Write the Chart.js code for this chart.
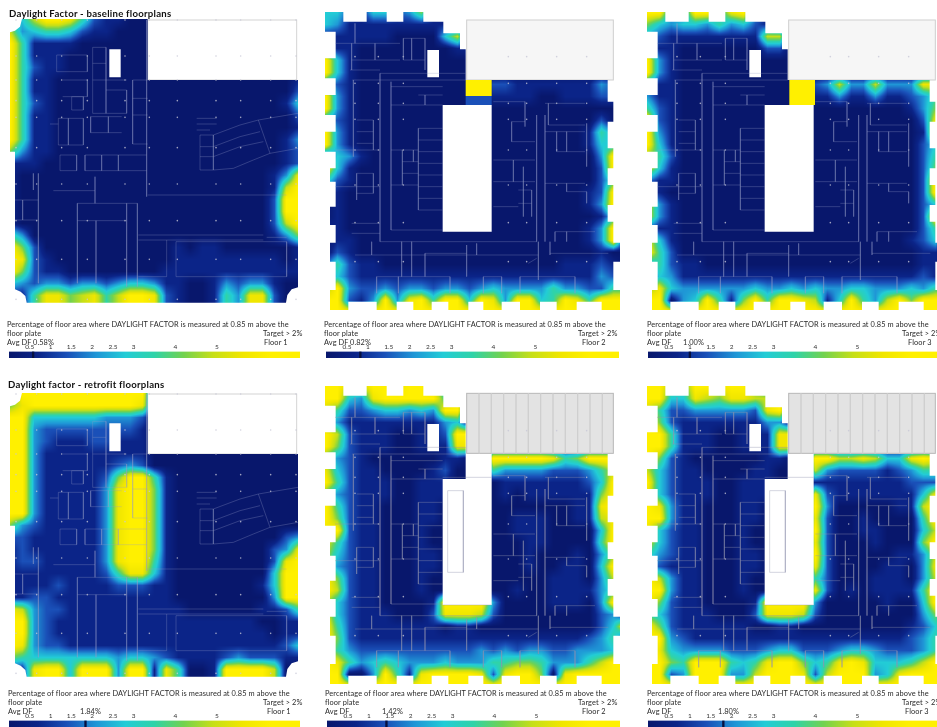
<!DOCTYPE html>
<html>
<head>
<meta charset="utf-8">
<script src="https://cdn.jsdelivr.net/npm/chart.js@4.4.0/dist/chart.umd.min.js"></script>
<style>
  html, body { margin: 0; background: #fff; overflow: hidden; }
  #page { position: relative; width: 937px; height: 727px; overflow: hidden; filter: blur(0.35px); }
  #page canvas { position: absolute; }
  .t { position: absolute; white-space: nowrap; font: 7.4px Lato, sans-serif; color: #2a2a2a; letter-spacing: 0.1px; line-height: 9px; }
  .h { font: bold 9.6px Lato, sans-serif; color: #111; letter-spacing: 0.25px; line-height: 11px; }
</style>
</head>
<body>
<div id="page"></div>
<script>
// daylight factor read per cell, one digit per cell, see dfLevels
const dfLevels = [0, 0.7, 1.4, 2.1, 2.8, 3.5, 4.2, 4.9, 5.6, 6.3];
const rampValues = [0, 0.7, 1.4, 2.1, 2.8, 3.5, 4.2, 4.9, 5.6, 6.3, 7];
const rampColors = ['#08176c', '#0b2488', '#1a50b8', '#1f96d6', '#22ccd6', '#2fd3a8', '#72d24f', '#c5df18', '#f0e600', '#fff000', '#fff000'];
const barTicks = [0, 0.5, 1, 1.5, 2, 2.5, 3, 4, 5, 7];

const baseFloor1 = [
  "2479985211", "734554211", "95111100", "95111", "95211", "9511000000000000000000001",
  "9511000000000000000000002", "9521000000000000000000014", "9511000000000000000000002",
  "9511000000000000000000001", "9511000000000000000000013", "6311000000000000000000012",
  "1110000000000000000000012", "1000000000000000000000138", "1000000000000000000000179",
  "1000000000000000000000299", "1000000000000000000000299", "1000000000000000000000279",
  "5300000000000000000000136", "9620000000000010110000001", "9821000000000011111111101",
  "9621100000000111111111111", "4323323323443110013233100", "1158867857998210015388200",
  "1158867857998210015388200"
];
const baseFloor2 = [
  "44214423611", "43111111111", "111111000047", "21100000000110", "941", "941",
  "32100000000000221111111320", "93100000000000111100111220", "931", "32100000000000000000000200",
  "93100000000000000000001530", "93100000000000000000001440", "14310000000000000000000390",
  "94100000000000000000000290", "52100000000000000000000250", "11000000000000000000001290",
  "01000000000000000000001390", "01000000000000000000000140", "11000000000000000000001390",
  "01100000000000000000001390", "02100000000000000000000100", "25211000000000000000111210",
  "24211111111111111111111320", "69322323323323433335332255", "99213938959949839945985999",
  "99999999999999999999999999"
];
const baseFloor3 = [
  "9933994893", "64344353421", "321111111177", "311000000022", "931", "931",
  "31100000000000237337333880", "31100000000000113113112350", "52100000000000000000001360",
  "92100000000000000000000280", "93100000000000000000000190", "94100000000000000000000240",
  "65200000000000000000000250", "84100000000000000000000260", "31100000000000000000000290",
  "11000000000000000000000290", "83100000000000000000000240", "83100000000000000000000290",
  "21100000000000000000000250", "84100000000000000000001240", "95200000000000000000000110",
  "35211000000000000000000110", "14311111111111111111111210", "68433333343343433443334355",
  "99034951695998714953796999", "99999999999999999999999999"
];
const retroFloor1 = [
  "399999999999", "6899999999981", "994444443332", "993222222221", "993211122111", "993111111111",
  "993111111232", "99311111269951", "99311111389961", "99311111389961", "99311111389961",
  "63211111389961", "2211111138996100000000023", "1211111138996100000000238",
  "1221111138995100000000289", "1111111125884100000000499", "1111211112221100000001499",
  "1122111111111100000000399", "8732211111111110000001125", "9932111111111111111110011",
  "9932111111111111111111011", "9832211111111111111111124", "6544444443443211112322211",
  "1189949993991850019999700", "1189949993991850019999700"
];
const retroFloor2 = [
  "99779989973", "994389999958", "752234434399", "531111111134", "9721110011299", "9621110011188",
  "53210000001100999998569990", "84211000012000533332223570", "95211100111000011111112490",
  "53211100111000010111111690", "95211000110000000000011890", "96211000110000001110011780",
  "89211000100000001110000490", "85211000100000000110000590", "74211000110000000100010360",
  "73211000110000000100110490", "96211000100000000001110370", "97211000100000001001111350",
  "74211000019999300001110390", "84211100028887200000000230", "95211111110110000000000249",
  "96211111111111111111112350", "75322222222223232332233340", "98534543334333556653335799",
  "99003951899998289960899999", "99999999999999999999999999"
];
const retroFloor3 = [
  "99659989963", "994487688779", "7522333332893", "962111111133", "9951110011188", "9951110011188",
  "96210000001100997787448980", "74211000011000732222123550", "94211100111000111111112220",
  "84211100111000821111111480", "98311000110000930000011790", "99311000110000820010000590",
  "84211000100000920011000470", "84211000100000820001000690", "53211000110000920000011370",
  "32111000110000820000110380", "97311000100000520001110370", "99311000100000820101111590",
  "96211000019999300000100490", "54211100028887200000000360", "96211111100110000000001249",
  "99321111111111111111112350", "98433332223442223443222356", "99659995458996458984445799",
  "99239993379998279993489999", "99999999999999999999999999"
];

// floor plate outlines, in plan units
const groundOutlineX = [66, 443, 443, 894, 894, 875, 862, 858, 80, 76, 62, 45, 45, 30, 30, 45, 60];
const groundOutlineY = [57, 57, 240, 240, 862, 868, 885, 908, 908, 888, 875, 868, 455, 455, 97, 92, 80];
const upperOutlineX = [30, 85, 85, 155, 155, 215, 215, 265, 265, 325, 325, 385, 385, 435, 435, 452, 452, 878, 878, 895, 895, 878, 878, 895, 895, 878, 878, 895, 895, 878, 878, 895, 895, 915, 915, 895, 895, 915, 915, 860, 860, 785, 785, 725, 725, 675, 675, 615, 615, 560, 560, 505, 505, 460, 460, 400, 400, 350, 350, 295, 295, 245, 245, 185, 185, 100, 100, 45, 45, 62, 62, 45, 45, 62, 62, 45, 45, 62, 62, 45, 45, 62, 62, 30, 30, 62, 62, 30, 30, 62, 62, 30, 30, 62, 62, 30];
const upperOutlineY = [36, 36, 65, 65, 36, 36, 65, 65, 36, 36, 65, 65, 100, 100, 148, 148, 240, 240, 305, 305, 365, 365, 445, 445, 505, 505, 555, 555, 615, 615, 665, 665, 728, 728, 785, 785, 870, 870, 930, 930, 905, 905, 930, 930, 905, 905, 930, 930, 905, 905, 930, 930, 905, 905, 930, 930, 905, 905, 930, 930, 905, 905, 930, 930, 905, 905, 930, 930, 870, 870, 785, 785, 728, 728, 675, 675, 620, 620, 545, 545, 505, 505, 455, 455, 395, 395, 345, 345, 285, 285, 235, 235, 175, 175, 95, 95];

const groundHoles = [[328, 148, 362, 232]];
const baseUpperHoles = [[337, 150, 372, 232], [383, 315, 530, 695]];
const retroUpperHoles = [[337, 150, 372, 232], [452, 240, 530, 315], [383, 315, 530, 693]];
const floor2Patches = [[452, 240, 530, 288, 6.3], [452, 288, 530, 315, 1.4]];
const floor3Patches = [[457, 240, 534, 315, 6.3]];

const groundWalls = [
  [170,165,262,165,262,215,170,215,170,165], [188,240,262,240,262,290,188,290], [215,290,250,290,250,330,215,330,215,290],
  [278,142,318,142,318,340,278,340,278,142], [278,190,318,190], [278,240,380,240], [318,270,380,270,380,340,318,340],
  [272,350,365,350], [272,398,365,398], [272,350,272,398], [325,350,325,398], [150,372,175,372],
  [175,355,250,355,250,435,175,435,175,355], [205,355,205,435], [180,465,230,465,230,512,180,512,180,465],
  [255,465,440,465], [255,512,440,512], [255,465,255,512], [305,465,305,512], [355,465,355,512],
  [398,240,443,240], [398,240,398,432,443,432], [398,295,443,295], [398,345,443,345],
  [440,60,440,590], [443,585,860,585], [160,572,285,572], [285,530,285,610], [232,610,412,610],
  [232,610,232,850], [288,662,288,850], [232,662,380,662], [380,610,380,860], [412,610,412,860],
  [415,705,790,705], [415,720,790,720], [528,725,860,725,860,830,528,830,528,725], [415,830,500,830,500,720],
  [45,600,115,600], [45,660,115,660], [115,520,115,850], [68,600,68,660],
  [600,405,640,405,640,510,600,510,600,405], [600,440,640,440], [600,470,640,470],
  [640,405,720,375,775,360,894,340], [640,440,720,410,780,395], [640,470,720,440,790,425],
  [640,510,700,505,760,480,810,460,894,445], [775,360,810,460], [590,355,650,355], [590,372,650,372], [590,390,630,390],
  [800,712,860,712], [100,520,100,570]
];
const upperWalls = [
  [105,210,195,210], [112,240,452,240], [110,130,110,210], [60,130,255,130], [180,130,180,180], [110,180,255,180],
  [265,115,330,115,330,210], [265,180,330,180], [290,115,290,180], [120,70,120,130], [265,115,265,180],
  [195,220,195,725,665,725], [195,220,452,220], [228,245,228,690,383,690], [228,260,383,260],
  [310,285,383,285], [330,285,330,315], [228,315,383,315], [310,385,383,385], [310,385,310,630,383,630],
  [310,420,383,420], [310,455,383,455], [310,490,383,490], [310,525,383,525], [310,560,383,560], [310,595,383,595],
  [228,450,310,450], [228,555,310,555], [262,450,262,555], [262,485,310,485], [262,520,310,520], [295,450,295,485],
  [115,240,115,470], [125,360,175,360], [125,395,175,395], [125,430,175,430], [175,360,175,450], [60,450,195,450],
  [125,520,175,520], [125,580,175,580], [175,520,175,580], [125,520,125,600], [60,560,195,560], [110,670,195,670], [110,700,195,700],
  [535,305,630,305,630,380], [590,365,630,365], [590,365,590,425,660,425], [535,480,660,480], [535,545,660,545],
  [595,480,595,545], [625,500,625,650], [610,570,650,570,650,650], [610,610,650,610], [535,620,610,620],
  [690,310,810,310], [690,345,690,725], [665,345,665,725], [700,310,700,375,810,375], [690,395,810,395],
  [725,395,725,455], [755,395,755,455], [725,455,810,455], [690,550,810,550], [755,550,755,575,815,575,815,610], [815,370,815,500],
  [720,695,840,695], [720,695,720,725], [755,695,755,725],
  [170,725,170,765], [120,765,670,765], [260,725,260,830], [290,725,290,830], [330,760,455,760], [330,760,330,830],
  [455,735,455,830], [485,730,485,765], [670,725,670,840], [705,725,705,765], [705,760,880,760],
  [185,830,405,830], [185,830,185,880], [405,830,405,880], [505,830,560,830], [505,830,505,880], [560,830,560,880],
  [615,830,780,830], [615,830,615,880], [780,830,780,880], [250,830,250,880], [640,790,665,775]
];
const courtyardWalls = [[398,350,445,350,445,595,398,595,398,350], [383,310,530,310], [383,693,530,693]];
const roofRibs = [492, 529, 566, 603, 640, 677, 714, 751, 788, 825, 862];

const groundColumnsX = [48, 110, 185, 262, 375, 448, 532, 648, 722, 812, 888];
const groundColumnsY = [60, 168, 240, 302, 352, 443, 552, 662, 778, 898];
const upperColumnsX = [120, 190, 265, 580, 635, 725, 815];
const upperColumnsY = [170, 250, 310, 358, 450, 555, 668, 785];

const avgValues = [0.58, 0.82, 1.00, 1.84, 1.42, 1.80];
const captionLine1 = 'Percentage of floor area where DAYLIGHT FACTOR is measured at 0.85 m above the';
const captionLine2 = 'floor plate';
const targetLabel = 'Target > 2%';
const floorLabels = ['Floor 1', 'Floor 2', 'Floor 3', 'Floor 1', 'Floor 2', 'Floor 3'];
const avgLabels = ['0.58%', '0.82%', '1.00%', '1.84%', '1.42%', '1.80%'];

const page = document.getElementById('page');

function addText(str, x, y, cls) {
  const d = document.createElement('div');
  d.className = cls || 't';
  d.textContent = str;
  d.style.left = x + 'px';
  d.style.top = y + 'px';
  page.appendChild(d);
}

function addCanvas(left, top, w, h) {
  const c = document.createElement('canvas');
  c.width = w;
  c.height = h;
  c.style.left = left + 'px';
  c.style.top = top + 'px';
  c.style.width = w + 'px';
  c.style.height = h + 'px';
  page.appendChild(c);
  return c;
}

function hexToRgb(h) {
  return [parseInt(h.slice(1, 3), 16), parseInt(h.slice(3, 5), 16), parseInt(h.slice(5, 7), 16)];
}

function dfColor(v) {
  const rgbs = rampColors.map(hexToRgb);
  let k = 0;
  while (k < rampValues.length - 2 && v > rampValues[k + 1]) k++;
  const f = Math.min(1, Math.max(0, (v - rampValues[k]) / (rampValues[k + 1] - rampValues[k])));
  return rgbs[k].map((c, n) => c + (rgbs[k + 1][n] - c) * f);
}

// Smooth contour look: reads the cell positions the library computed
const heatPlugin = {
  id: 'heat',
  beforeDatasetsDraw(chart, args, opts) {
    const { ctx, chartArea, scales } = chart;
    const px = (v) => scales.x.getPixelForValue(v);
    const py = (v) => scales.y.getPixelForValue(v);
    const cells = chart.data.datasets[0];
    const pts = chart.getDatasetMeta(0).data;
    const cols = opts.cols, rows = pts.length / cols;
    const dx = pts[1].x - pts[0].x, dy = pts[cols].y - pts[0].y;

    const roof = opts.roof;
    ctx.save();
    ctx.fillStyle = roof.fill;
    ctx.strokeStyle = roof.stroke;
    ctx.lineWidth = 1;
    const rx = px(roof.box[0]), ry = py(roof.box[1]);
    ctx.fillRect(rx, ry, px(roof.box[2]) - rx, py(roof.box[3]) - ry);
    ctx.strokeRect(rx, ry, px(roof.box[2]) - rx, py(roof.box[3]) - ry);
    ctx.restore();

    const w = Math.ceil(chartArea.width), h = Math.ceil(chartArea.height);
    const off = document.createElement('canvas');
    off.width = w;
    off.height = h;
    const octx = off.getContext('2d');
    const img = octx.createImageData(w, h);
    for (let yy = 0; yy < h; yy++) {
      const gy = Math.min(rows - 1.001, Math.max(0, (yy + chartArea.top - pts[0].y) / dy));
      const j = Math.floor(gy), fy = gy - j;
      for (let xx = 0; xx < w; xx++) {
        const gx = Math.min(cols - 1.001, Math.max(0, (xx + chartArea.left - pts[0].x) / dx));
        const i = Math.floor(gx), fx = gx - i;
        const a = cells.data[j * cols + i].v, b = cells.data[j * cols + i + 1].v;
        const c = cells.data[(j + 1) * cols + i].v, d = cells.data[(j + 1) * cols + i + 1].v;
        const rgb = dfColor(a * (1 - fx) * (1 - fy) + b * fx * (1 - fy) + c * (1 - fx) * fy + d * fx * fy);
        const o = (yy * w + xx) * 4;
        img.data[o] = rgb[0];
        img.data[o + 1] = rgb[1];
        img.data[o + 2] = rgb[2];
        img.data[o + 3] = 255;
      }
    }
    octx.putImageData(img, 0, 0);

    ctx.save();
    ctx.beginPath();
    opts.outlineX.forEach((x, n) => {
      if (n === 0) ctx.moveTo(px(x), py(opts.outlineY[n]));
      else ctx.lineTo(px(x), py(opts.outlineY[n]));
    });
    ctx.closePath();
    opts.holes.forEach((r) => ctx.rect(px(r[0]), py(r[1]), px(r[2]) - px(r[0]), py(r[3]) - py(r[1])));
    ctx.clip('evenodd');
    ctx.drawImage(off, chartArea.left, chartArea.top);
    opts.patches.forEach((r) => {
      const col = dfColor(r[4]);
      ctx.fillStyle = `rgb(${col[0]},${col[1]},${col[2]})`;
      ctx.fillRect(px(r[0]), py(r[1]), px(r[2]) - px(r[0]), py(r[3]) - py(r[1]));
    });
    ctx.restore();
  }
};

function toCells(rows, cols, x0, y0, step) {
  const out = [];
  rows.forEach((row, j) => {
    const full = row.padEnd(cols, '0');
    for (let i = 0; i < cols; i++) {
      out.push({ x: x0 + i * step, y: y0 + j * step, v: dfLevels[+full[i]] });
    }
  });
  return out;
}

function toLines(lists) {
  const out = [];
  lists.forEach((l) => {
    for (let n = 0; n < l.length; n += 2) out.push({ x: l[n], y: l[n + 1] });
    out.push({ x: NaN, y: NaN });
  });
  return out;
}

function toGrid(xs, ys) {
  const out = [];
  ys.forEach((y) => xs.forEach((x) => out.push({ x, y })));
  return out;
}

function drawPlan(p) {
  const ground = p.kind === 'ground';
  const range = ground ? { x0: 30, x1: 894, y0: 57, y1: 909 } : { x0: 30, x1: 915, y0: 36, y1: 930 };
  const w = Math.round((range.x1 - range.x0) / 3), h = Math.round((range.y1 - range.y0) / 3);
  const cols = ground ? 25 : 26;
  const canvas = addCanvas(p.left, p.top, w, h);
  const walls = (ground ? groundWalls : upperWalls).concat(p.extraWalls || []);
  const ribs = p.ribs ? roofRibs.map((x) => [x, 58, x, 238]) : [];
  const datasets = [
    { label: 'cells', data: toCells(p.cells, cols, range.x0, range.y0, 36), pointRadius: 0, pointHoverRadius: 0, showLine: false },
    { label: 'walls', data: toLines(walls), showLine: true, spanGaps: false, pointRadius: 0, pointHoverRadius: 0, borderWidth: 0.6, borderColor: p.wallColor },
    { label: 'ribs', data: toLines(ribs), showLine: true, spanGaps: false, pointRadius: 0, pointHoverRadius: 0, borderWidth: 0.7, borderColor: '#cfcfcf' },
    { label: 'columns', data: toGrid(ground ? groundColumnsX : upperColumnsX, ground ? groundColumnsY : upperColumnsY), showLine: false, pointRadius: 0.8, pointHoverRadius: 0, borderWidth: 0, backgroundColor: 'rgba(200,200,215,0.8)' }
  ];
  return new Chart(canvas, {
    type: 'scatter',
    data: { datasets },
    plugins: [heatPlugin],
    options: {
      responsive: false,
      animation: false,
      events: [],
      layout: { autoPadding: false, padding: 0 },
      scales: {
        x: { type: 'linear', display: false, min: range.x0, max: range.x1 },
        y: { type: 'linear', display: false, reverse: true, min: range.y0, max: range.y1 }
      },
      plugins: {
        legend: { display: false },
        tooltip: { enabled: false },
        heat: {
          cols,
          outlineX: ground ? groundOutlineX : upperOutlineX,
          outlineY: ground ? groundOutlineY : upperOutlineY,
          holes: p.holes,
          patches: p.patches || [],
          roof: p.roof
        }
      }
    }
  });
}

function drawBar(left, top, width, height, avg) {
  const canvas = addCanvas(left, top, width, height);
  return new Chart(canvas, {
    type: 'bar',
    data: {
      labels: ['DF'],
      datasets: [
        { label: 'avg', data: [[avg - 0.02, avg + 0.02]], backgroundColor: '#06103f', grouped: false, barPercentage: 1, categoryPercentage: 1 },
        {
          label: 'scale', data: [[0, 7]], grouped: false, barPercentage: 1, categoryPercentage: 1,
          backgroundColor: (ctx) => {
            const area = ctx.chart.chartArea;
            if (!area) return rampColors[0];
            const g = ctx.chart.ctx.createLinearGradient(area.left, 0, area.right, 0);
            rampValues.forEach((v, n) => g.addColorStop(v / 7, rampColors[n]));
            return g;
          }
        }
      ]
    },
    options: {
      indexAxis: 'y',
      responsive: false,
      animation: false,
      events: [],
      layout: { autoPadding: false, padding: 0 },
      scales: {
        y: { display: false },
        x: {
          type: 'linear', position: 'top', min: 0, max: 7,
          grid: { display: false, drawTicks: false },
          border: { display: false },
          afterBuildTicks: (axis) => { axis.ticks = barTicks.map((value) => ({ value })); },
          ticks: {
            autoSkip: false, maxRotation: 0, padding: 1, color: '#333',
            font: { family: 'Lato', size: 6.5 },
            callback: (v) => (v === 0 || v === 7 ? '' : String(v))
          }
        }
      },
      plugins: { legend: { display: false }, tooltip: { enabled: false } }
    }
  });
}

const wallBlue = 'rgba(150,158,200,0.5)';
const wallGrey = 'rgba(145,148,175,0.65)';
const whiteRoof = { box: [443, 60, 890, 240], fill: '#ffffff', stroke: '#d4d4d4' };
const paleRoof = { box: [455, 60, 895, 240], fill: '#f6f6f6', stroke: '#cfcfcf' };
const greyRoof = { box: [455, 58, 895, 238], fill: '#e3e3e3', stroke: '#b8b8b8' };

drawPlan({ kind: 'ground', left: 10, top: 19, cells: baseFloor1, holes: groundHoles, roof: whiteRoof, wallColor: wallBlue });
drawPlan({ kind: 'upper', left: 325, top: 12, cells: baseFloor2, holes: baseUpperHoles, patches: floor2Patches, roof: paleRoof, wallColor: wallBlue });
drawPlan({ kind: 'upper', left: 647, top: 12, cells: baseFloor3, holes: baseUpperHoles, patches: floor3Patches, roof: paleRoof, wallColor: wallBlue });
drawPlan({ kind: 'ground', left: 10, top: 393, cells: retroFloor1, holes: groundHoles, roof: whiteRoof, wallColor: wallBlue });
drawPlan({ kind: 'upper', left: 325, top: 386, cells: retroFloor2, holes: retroUpperHoles, roof: greyRoof, ribs: true, extraWalls: courtyardWalls, wallColor: wallGrey });
drawPlan({ kind: 'upper', left: 647, top: 386, cells: retroFloor3, holes: retroUpperHoles, roof: greyRoof, ribs: true, extraWalls: courtyardWalls, wallColor: wallGrey });

drawBar(8, 345, 293, 13, avgValues[0]);
drawBar(325, 345, 295, 13, avgValues[1]);
drawBar(647, 345, 295, 13, avgValues[2]);
drawBar(8, 714, 293, 13, avgValues[3]);
drawBar(326, 714, 295, 13, avgValues[4]);
drawBar(647, 714, 295, 13, avgValues[5]);

addText('Daylight Factor - baseline floorplans', 9, 8, 't h');
addText('Daylight factor - retrofit floorplans', 8, 379, 't h');

const captionX = [7, 324, 647, 8, 325, 647];
const captionY = [320, 320, 320, 689, 689, 689];
const targetX = [263, 578, 902, 263, 578, 902];
const floorX = [264, 582, 908, 267, 582, 905];
const avgValueX = [33, 350, 683, 80, 382, 718];
captionX.forEach((x, n) => {
  const y = captionY[n];
  addText(captionLine1, x, y);
  addText(captionLine2, x, y + 9);
  addText(targetLabel, targetX[n], y + 9);
  addText('Avg DF', x, y + 18);
  addText(avgLabels[n], avgValueX[n], y + 18);
  addText(floorLabels[n], floorX[n], y + 18);
});
</script>
</body>
</html>
